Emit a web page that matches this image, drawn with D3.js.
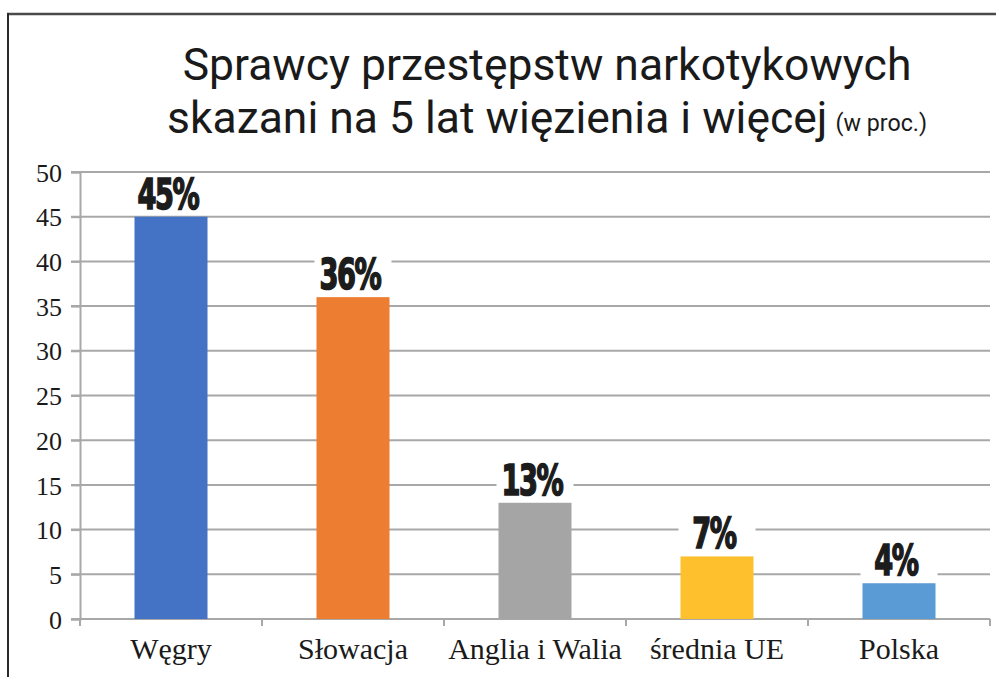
<!DOCTYPE html>
<html>
<head>
<meta charset="utf-8">
<script src="https://cdn.jsdelivr.net/npm/d3@7"></script>
<style>
  html, body { margin: 0; padding: 0; background: #fff; }
  svg { display: block; }
</style>
</head>
<body>
<svg id="chart" width="996" height="677"></svg>
<script>
// ---- data ----
const categories = ["Węgry", "Słowacja", "Anglia i Walia", "średnia UE", "Polska"];
const values = [45, 36, 13, 7, 4];
const valueLabels = ["45%", "36%", "13%", "7%", "4%"];
const colors = ["#4472C4", "#ED7D31", "#A5A5A5", "#FFC02E", "#5B9BD5"];
const yTicks = [0, 5, 10, 15, 20, 25, 30, 35, 40, 45, 50];
const titleLine1 = "Sprawcy przestępstw narkotykowych";
const titleLine2 = "skazani na 5 lat więzienia i więcej";
const titleSuffix = "(w proc.)";

const svg = d3.select("#chart");

// frame
svg.append("line").attr("x1", 7).attr("x2", 996).attr("y1", 14).attr("y2", 14)
  .attr("stroke", "#4a4a4a").attr("stroke-width", 2.5);
svg.append("line").attr("x1", 8).attr("x2", 8).attr("y1", 13).attr("y2", 677)
  .attr("stroke", "#2a2a2a").attr("stroke-width", 2);

const margin = {left: 80, right: 6};
const W = 996;
const y = d3.scaleLinear().domain([0, 50]).range([619, 172]);
const xEdges = d3.scaleLinear().domain([0, categories.length]).range([margin.left, W - margin.right]);
const x = d3.scaleBand().domain(categories).range([margin.left, W - margin.right]).paddingInner(0.6).paddingOuter(0.3);

// gridlines
const gridColor = "#a8a8a8";
svg.append("g").selectAll("line").data(yTicks).join("line")
  .attr("x1", margin.left - 9).attr("x2", W - margin.right)
  .attr("y1", d => y(d)).attr("y2", d => y(d))
  .attr("stroke", gridColor).attr("stroke-width", 2);

// y axis
const yAxis = svg.append("g").attr("transform", `translate(${margin.left},0)`)
  .call(d3.axisLeft(y).tickValues(yTicks).tickSize(9).tickPadding(9));
yAxis.select(".domain").attr("stroke", gridColor).attr("stroke-width", 2);
yAxis.selectAll(".tick line").attr("stroke", gridColor).attr("stroke-width", 2);
yAxis.selectAll("text").attr("font-family", "Liberation Serif, serif").attr("font-size", 26)
  .attr("fill", "#1a1a1a").attr("dy", "0.35em");

// x axis
const xAxis = svg.append("g").attr("transform", `translate(0,${y(0)})`);
xAxis.append("line").attr("x1", margin.left).attr("x2", W - margin.right).attr("y1", 0).attr("y2", 0)
  .attr("stroke", gridColor).attr("stroke-width", 2);
xAxis.selectAll("line.tk").data(d3.range(categories.length + 1)).join("line").attr("class", "tk")
  .attr("x1", d => xEdges(d)).attr("x2", d => xEdges(d)).attr("y1", 0).attr("y2", 7)
  .attr("stroke", gridColor).attr("stroke-width", 2);
xAxis.selectAll("text").data(categories).join("text")
  .attr("x", d => x(d) + x.bandwidth() / 2).attr("y", 40)
  .attr("text-anchor", "middle").attr("font-family", "Liberation Serif, serif").attr("font-size", 30)
  .attr("fill", "#1a1a1a").text(d => d);

// bars
const bw = 73;
const cx = (i) => x(categories[i]) + x.bandwidth() / 2;
svg.append("g").selectAll("rect").data(values).join("rect")
  .attr("x", (d, i) => cx(i) - bw / 2).attr("width", bw)
  .attr("y", d => y(d)).attr("height", d => y(0) - y(d))
  .attr("fill", (d, i) => colors[i]);

// value labels with white backing
const lab = svg.append("g");
values.forEach((v, i) => {
  lab.append("rect").attr("x", cx(i) - bw / 2 - 2).attr("width", bw + 4)
    .attr("y", y(v) - 42).attr("height", 40).attr("fill", "#fff");
  lab.append("text")
    .attr("transform", `translate(${cx(i) - 3},${y(v) - 8}) scale(0.72,1)`)
    .attr("text-anchor", "middle")
    .attr("font-family", "DejaVu Sans Condensed, DejaVu Sans, sans-serif")
    .attr("font-weight", "bold").attr("font-size", 42).attr("fill", "#1c1c1c")
    .attr("stroke", "#1c1c1c").attr("stroke-width", 1.6)
    .attr("letter-spacing", -2)
    .text(valueLabels[i]);
});

// title
const tg = svg.append("g").attr("font-family", "Roboto, sans-serif").attr("fill", "#1a1a1a")
  .attr("font-weight", 400);
const fs = 44;
const t1 = tg.append("text").attr("text-anchor", "middle").attr("font-size", fs).text(titleLine1);
const sx = 729 / t1.node().getComputedTextLength();
t1.attr("transform", `translate(547,80) scale(${sx},1)`);
const t2 = tg.append("text").attr("text-anchor", "middle").attr("font-size", fs)
  .attr("transform", `translate(547,133) scale(${sx},1)`);
t2.append("tspan").text(titleLine2);
t2.append("tspan").attr("font-size", 23).attr("dx", 8).attr("dy", -2).text(titleSuffix);
</script>
</body>
</html>
